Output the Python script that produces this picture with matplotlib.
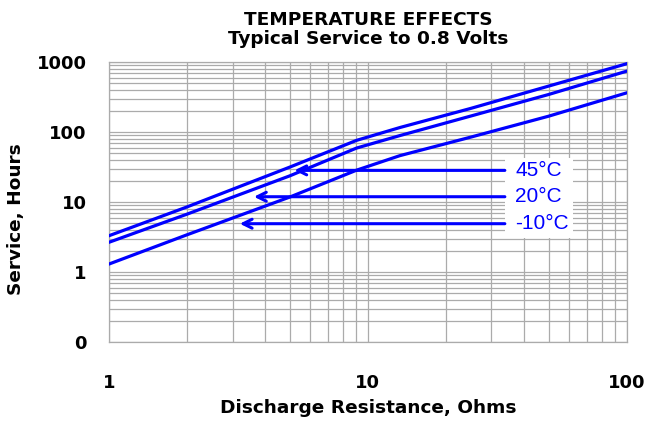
import numpy as np
import matplotlib.pyplot as plt
from matplotlib.patches import Rectangle

# service curves
resistance = [1, 2, 5.0, 9.04, 13.3, 24.8, 49.8, 100]
hours_45 = [3.3, 8.5, 31.6, 76, 116, 216, 452, 946]
hours_20 = [2.66, 6.7, 23.7, 59, 89, 168, 343, 741]
hours_m10 = [1.3, 3.4, 11.8, 28.5, 46, 84, 168, 363]

# arrow labels: text, level (hours), arrow tip (ohms)
temp_labels = ['45\u00b0C', '20\u00b0C', '-10\u00b0C']
arrow_hours = [28.3, 11.9, 4.9]
arrow_tips = [5.2, 3.63, 3.2]
arrow_tail = 33.8

yticks = [0.1, 1, 10, 100, 1000]
ytick_labels = ['0', '1', '10', '100', '1000']
xticks = [1, 10, 100]
xtick_labels = ['1', '10', '100']

fig = plt.figure(figsize=(6.55, 4.21), dpi=100)
ax = fig.add_axes([0.1664, 0.1876, 0.7906, 0.6651])
ax.set_xscale('log')
ax.set_yscale('log')
ax.set_xlim(1, 100)
ax.set_ylim(0.1, 1000)

ax.set_axisbelow(True)
ax.grid(True, which='both', color='#ababab', linewidth=0.9)
for s in ax.spines.values():
    s.set_color('#ababab')
    s.set_linewidth(0.9)

blue = '#0000ff'
for h in [hours_45, hours_20, hours_m10]:
    ax.plot(resistance, h, color=blue, linewidth=2.3, zorder=3,
            solid_joinstyle='round')

# white box behind the labels
ax.add_patch(Rectangle((arrow_tail, 3.07), 61.9 - arrow_tail, 43 - 3.07,
                       facecolor='white', edgecolor='none', zorder=1.5))

for lab, yh, tip in zip(temp_labels, arrow_hours, arrow_tips):
    ax.annotate('', xy=(tip, yh), xytext=(arrow_tail, yh),
                arrowprops=dict(arrowstyle='->', color=blue, lw=2.2,
                                mutation_scale=16, shrinkA=0, shrinkB=0),
                zorder=3)
    ax.text(37, yh, lab, color=blue, fontsize=15, family='Liberation Sans',
            ha='left', va='center', zorder=4)

ax.set_yticks(yticks)
ax.set_yticklabels(ytick_labels)
ax.set_xticks(xticks)
ax.set_xticklabels(xtick_labels)
ax.tick_params(which='both', length=0)
ax.tick_params(axis='y', pad=16)
ax.tick_params(axis='x', pad=23)
for t in ax.get_xticklabels() + ax.get_yticklabels():
    t.set_fontweight('bold')
    t.set_fontsize(13)

ax.set_xlabel('Discharge Resistance, Ohms', fontsize=13.3, fontweight='bold',
              va='center')
ax.xaxis.set_label_coords(0.5, -0.236)
ax.set_ylabel('Service, Hours', fontsize=13.3, fontweight='bold')
ax.yaxis.set_label_coords(-0.162, 0.44)
ax.set_title('TEMPERATURE EFFECTS\nTypical Service to 0.8 Volts',
             fontsize=13.3, fontweight='bold', pad=13, linespacing=1.05)

fig.savefig('out.png', dpi=100)
